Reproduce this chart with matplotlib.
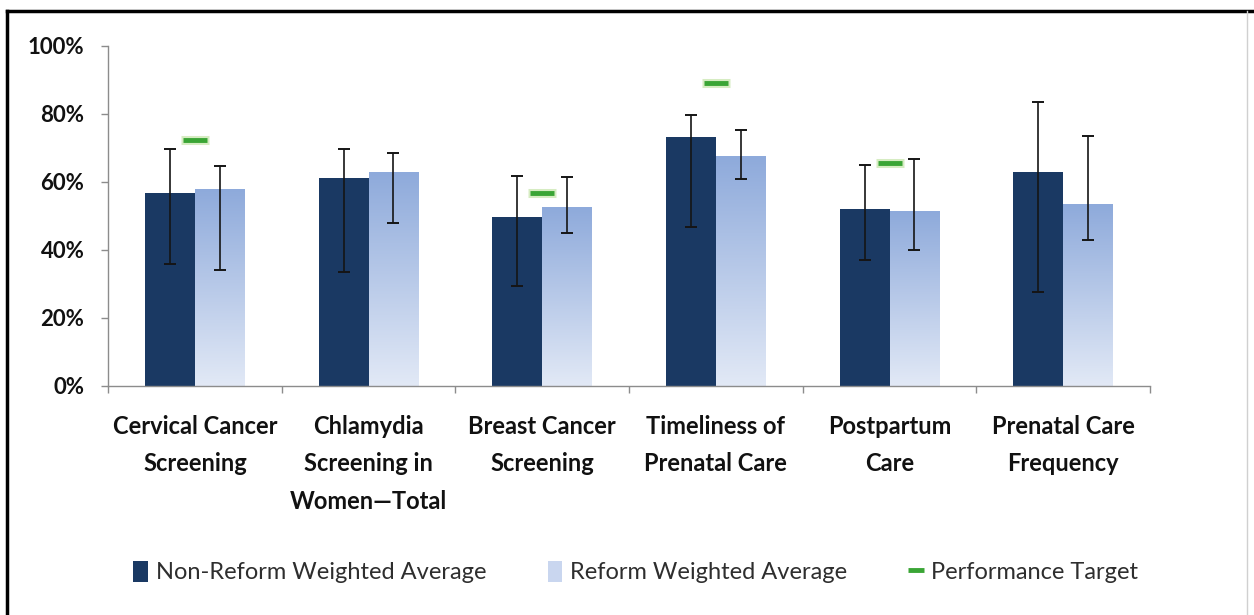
import numpy as np
import matplotlib
matplotlib.use('Agg')
import matplotlib.pyplot as plt
from matplotlib.colors import LinearSegmentedColormap
from matplotlib.lines import Line2D
from matplotlib.patches import Patch

categories = ['Cervical Cancer\nScreening', 'Chlamydia\nScreening in\nWomen\u2014Total',
              'Breast Cancer\nScreening', 'Timeliness of\nPrenatal Care',
              'Postpartum\nCare', 'Prenatal Care\nFrequency']

# values in percent
non_reform = [56.7, 61.1, 49.8, 73.1, 52.2, 62.8]
non_reform_hi = [69.6, 69.6, 61.9, 79.7, 65.0, 83.4]
non_reform_lo = [35.8, 33.6, 29.4, 46.7, 37.1, 27.7]
reform = [57.9, 62.8, 52.5, 67.4, 51.3, 53.5]
reform_hi = [64.7, 68.5, 61.4, 75.3, 66.8, 73.4]
reform_lo = [34.1, 48.0, 44.9, 61.0, 39.9, 42.9]
target = [72.5, np.nan, 56.8, 89.0, 65.7, np.nan]

yticks = [0, 20, 40, 60, 80, 100]

DARK = '#1a3963'
LIGHT_TOP = '#8eaadb'
LIGHT_BOTTOM = '#e2e9f6'
GREEN = '#3aa535'
AXIS_GRAY = '#8c8c8c'

plt.rcParams['font.family'] = ['Lato', 'DejaVu Sans']

fig = plt.figure(figsize=(12.54, 6.15), dpi=100)
ax = fig.add_axes([108 / 1254, 1 - 386 / 615, 1042 / 1254, 340 / 615])

x = np.arange(len(categories))
w = 0.287

nr = np.array(non_reform)
rf = np.array(reform)

ax.bar(x - w / 2, nr, width=w, color=DARK, zorder=2)
light_bars = ax.bar(x + w / 2, rf, width=w, color='none', zorder=2)

# vertical gradient fill for the reform bars
cmap = LinearSegmentedColormap.from_list('reform', [LIGHT_BOTTOM, LIGHT_TOP])
grad = np.linspace(0, 1, 256).reshape(-1, 1)
for b in light_bars:
    x0 = b.get_x()
    ax.imshow(grad, extent=[x0, x0 + b.get_width(), 0, b.get_height()],
              origin='lower', cmap=cmap, aspect='auto', zorder=2)

err_kw = dict(fmt='none', ecolor='#151515', elinewidth=1.2, capsize=4.3,
              capthick=1.4, zorder=3)
ax.errorbar(x - w / 2, nr, yerr=[nr - np.array(non_reform_lo), np.array(non_reform_hi) - nr], **err_kw)
ax.errorbar(x + w / 2, rf, yerr=[rf - np.array(reform_lo), np.array(reform_hi) - rf], **err_kw)

# performance target dashes with a faint halo
ax.plot(x, target, linestyle='none', marker='_', markersize=20, mew=6.5,
        color='#d6ecc2', zorder=4)
ax.plot(x, target, linestyle='none', marker='_', markersize=17.5, mew=3.5,
        color=GREEN, zorder=5)

ax.set_xlim(-0.5, len(categories) - 0.5)
ax.set_ylim(0, 100)
ax.set_yticks(yticks)
ax.set_yticklabels(['%d%%' % v for v in yticks], fontsize=16, fontweight='bold',
                   color='#111111')
ax.tick_params(axis='y', direction='out', length=5, width=1, color=AXIS_GRAY, pad=12)

ax.set_xticks(x)
ax.set_xticklabels(categories, fontsize=17, fontweight='bold', color='#111111',
                   linespacing=1.75, va='top')
ax.set_xticks(np.arange(len(categories) + 1) - 0.5, minor=True)
ax.tick_params(axis='x', which='major', length=0, pad=21)
ax.tick_params(axis='x', which='minor', direction='out', length=5, width=1, color=AXIS_GRAY)

for side in ['top', 'right']:
    ax.spines[side].set_visible(False)
for side in ['left', 'bottom']:
    ax.spines[side].set_color(AXIS_GRAY)
    ax.spines[side].set_linewidth(1)

handles = [Patch(facecolor=DARK),
           Patch(facecolor='#c9d6ef'),
           Line2D([], [], color=GREEN, linestyle='none', marker='_', markersize=11, mew=3.5)]
labels = ['Non-Reform Weighted Average', 'Reform Weighted Average', 'Performance Target']
fig.legend(handles, labels, loc='center', bbox_to_anchor=(0.507, 0.07), ncol=3,
           frameon=False, fontsize=17, handlelength=0.6, handleheight=1.0,
           handletextpad=0.35, columnspacing=2.6, labelcolor='#2e2e2e')

# outer frame of the picture
fig.add_artist(Line2D([7 / 1254, 1], [1 - 11 / 615, 1 - 11 / 615], transform=fig.transFigure,
                      color='black', linewidth=2.5))
fig.add_artist(Line2D([7 / 1254, 7 / 1254], [0, 1 - 11 / 615], transform=fig.transFigure,
                      color='black', linewidth=2.5))
fig.add_artist(Line2D([1247 / 1254, 1247 / 1254], [0, 1 - 11 / 615], transform=fig.transFigure,
                      color='#d0d0d0', linewidth=1))

fig.savefig('out.png', dpi=100)
